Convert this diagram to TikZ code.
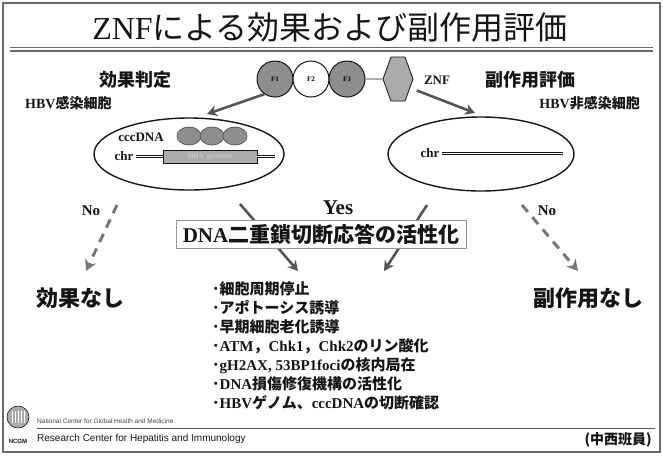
\documentclass[tikz,border=0pt]{standalone}
\usepackage{fontspec}
\setmainfont{Liberation Serif}
\setsansfont{Liberation Sans}
\newfontfamily\jp{Noto Sans CJK JP}
\usetikzlibrary{positioning,calc,shapes.geometric,arrows.meta}
\definecolor{cInk}{HTML}{151515}
\definecolor{cFrame}{HTML}{6A6A6A}
\definecolor{cDom}{HTML}{8E8E8E}
\definecolor{cDomL}{HTML}{ABABAB}
\definecolor{cArrow}{HTML}{555555}
\tikzset{
  head/.style={inner sep=0pt,text=cInk,font=\fontsize{18}{20}\selectfont\bfseries\jp},
  cell/.style={inner sep=0pt,text=cInk,font=\fontsize{14}{16}\selectfont\bfseries},
  dom/.style={circle,draw=cInk,line width=1pt,minimum size=36pt,inner sep=0pt,font=\fontsize{7}{8}\selectfont\bfseries},
  oval/.style={ellipse,draw=cInk,line width=1.4pt,inner sep=0pt},
  chrline/.style={draw=cInk,double=white,double distance=1.1pt,line width=0.7pt},
  arr/.style={-{Stealth[length=10pt,width=11pt]},cArrow,line width=2.6pt},
  noarr/.style={-{Stealth[length=11pt,width=12pt]},cArrow!80,line width=3pt,dash pattern=on 9pt off 7pt},
  res/.style={inner sep=0pt,text=cInk,font=\fontsize{22}{24}\selectfont\bfseries\jp},
}

\begin{document}
\begin{tikzpicture}[x=1pt,y=-1pt]
  \useasboundingbox (0,0) rectangle (663,456);
  % frame and title
  \draw[cFrame,line width=2pt] (3,3) rectangle (660,452);
  \node[inner sep=0pt,text=cInk,font=\fontsize{32}{34}\selectfont] (title) at (330,27)
    {ZNF{\jp による効果および副作用評価}};
  \draw[cFrame,line width=1.2pt] (10,47.5) -- (653,47.5);
  \draw[cFrame,line width=1.2pt] (10,51) -- (653,51);

  % headings
  \node[head] (effect) at (135,80) {効果判定};
  \node[head] (side) at (530,80) {副作用評価};
  \node[cell,anchor=west] (hbvA) at (25,103) {HBV{\jp 感染細胞}};
  \node[cell,anchor=east] (hbvB) at (640,103) {HBV{\jp 非感染細胞}};

  % ZNF molecule
  \node[dom,fill=cDom] (F1) at (275,79) {F1};
  \node[dom,fill=white] (F2) at (311,79) {F2};
  \node[dom,fill=cDom] (F3) at (347,79) {F3};
  \draw[cInk,fill=cDomL,line width=0.8pt] (383,79) coordinate (hexW)
    -- ++(8,-22) -- ++(14,0) -- ++(8,22) -- ++(-8,22) -- ++(-14,0) -- cycle;
  \draw[chrline,double=cDomL] (F3) -- (hexW);
  \node[cell,font=\fontsize{13}{15}\selectfont\bfseries] (znf) at (437,80) {ZNF};

  % the two cells
  \node[oval,minimum width=190pt,minimum height=72pt] (cellA) at (189,154) {};
  \node[oval,minimum width=186pt,minimum height=74pt] (cellB) at (481,154) {};
  \coordinate (inA) at (207,114);
  \coordinate (inB) at (475,113);
  \draw[arr] (F1.235) -- (inA);
  \draw[arr] (znf.south west) ++(-7,6) coordinate (outB) -- (inB);

  % infected cell: cccDNA and integrated genome
  \node[cell,font=\fontsize{13}{15}\selectfont\bfseries] (ccc) at (141,137) {cccDNA};
  \foreach \x [count=\i] in {189,212,235}
    \node[ellipse,draw=cInk!70,fill=cDom,line width=0.8pt,minimum width=24pt,minimum height=18pt] (ring\i) at (\x,136) {};
  \node[cell,font=\fontsize{13}{15}\selectfont\bfseries] (chrA) at (124,156) {chr};
  \node[draw=cInk,fill=cDomL,line width=0.8pt,minimum width=94pt,minimum height=13pt,inner sep=0pt,
    text=white!82!black,font=\fontsize{8}{9}\selectfont] (genome) at (210,156.5) {HBV genome};
  \coordinate (chrAend) at (275,156.5);
  \draw[chrline] (chrA.east) ++(2,0.5) coordinate (chrAs) -- (genome.west);
  \draw[chrline] (genome.east) -- (chrAend);

  % uninfected cell
  \node[cell,font=\fontsize{13}{15}\selectfont\bfseries] (chrB) at (430,153) {chr};
  \coordinate (chrBend) at (563,153.5);
  \draw[chrline] (chrB.east) ++(2,0.5) coordinate (chrBs) -- (chrBend);

  % outcomes
  \coordinate (noAs) at (117,205);
  \coordinate (noAe) at (86,271);
  \coordinate (noBs) at (522,205);
  \coordinate (noBe) at (578,271);
  \coordinate (yesAs) at (240,204);
  \coordinate (yesAe) at (298,271);
  \coordinate (yesBs) at (427,205);
  \coordinate (yesBe) at (384,271);
  \draw[noarr] (noAs) -- (noAe);
  \draw[noarr] (noBs) -- (noBe);
  \draw[arr] (yesAs) -- (yesAe);
  \draw[arr] (yesBs) -- (yesBe);
  \node[cell,font=\fontsize{15}{17}\selectfont\bfseries] (noA) at (91,211) {No};
  \node[cell,font=\fontsize{15}{17}\selectfont\bfseries] (noB) at (547,211) {No};
  \node[cell,font=\fontsize{21}{23}\selectfont\bfseries] (yes) at (338,208) {Yes};
  \node[draw=cFrame!70,fill=white,line width=0.8pt,minimum width=290pt,minimum height=28pt,inner sep=0pt,
    text=cInk,font=\fontsize{21}{23}\selectfont\bfseries] (dsb) at (321,234)
    {DNA{\jp 二重鎖切断応答の活性化}};
  \node[res] (noeff) at (80,298) {効果なし};
  \node[res] (noside) at (588,298) {副作用なし};

  % responses
  \node[inner sep=0pt,anchor=north west,align=left,text=cInk,font=\fontsize{15}{19}\selectfont\bfseries] (resp) at (212,281)
    {{\jp ･細胞周期停止}\\
     {\jp ･アポトーシス誘導}\\
     {\jp ･早期細胞老化誘導}\\
     {\jp ･}ATM{\jp ，}Chk1{\jp ，}Chk2{\jp のリン酸化}\\
     {\jp ･}gH2AX, 53BP1foci{\jp の核内局在}\\
     {\jp ･}DNA{\jp 損傷修復機構の活性化}\\
     {\jp ･}HBV{\jp ゲノム、}cccDNA{\jp の切断確認}};

  % footer
  \node[circle,draw=cInk,fill=cDomL,line width=0.6pt,minimum size=22pt,inner sep=0pt] (logo) at (18,417) {};
  \foreach \dx in {-6,-3,0,3,6}
    \draw[white,line width=0.6pt] ($(logo.center)+(\dx,-6)$) -- ++(0,12);
  \node[inner sep=0pt,text=cInk,font=\sffamily\fontsize{6}{7}\selectfont\bfseries] (ncgm) at (18,441) {NCGM};
  \node[inner sep=0pt,anchor=west,text=cInk!80,font=\sffamily\fontsize{6.5}{7}\selectfont] (ncgmEn) at (37,421)
    {National Center for Global Health and Medicine};
  \draw[cInk!70,line width=0.8pt] (37,428) -- (655,428);
  \node[inner sep=0pt,anchor=west,text=cInk,font=\sffamily\fontsize{10}{12}\selectfont] (rcen) at (37,439)
    {Research Center for Hepatitis and Immunology};
  \node[inner sep=0pt,anchor=east,text=cInk,font=\fontsize{14}{16}\selectfont\bfseries\jp] (grp) at (652,440) {(中西班員)};
\end{tikzpicture}
\end{document}
